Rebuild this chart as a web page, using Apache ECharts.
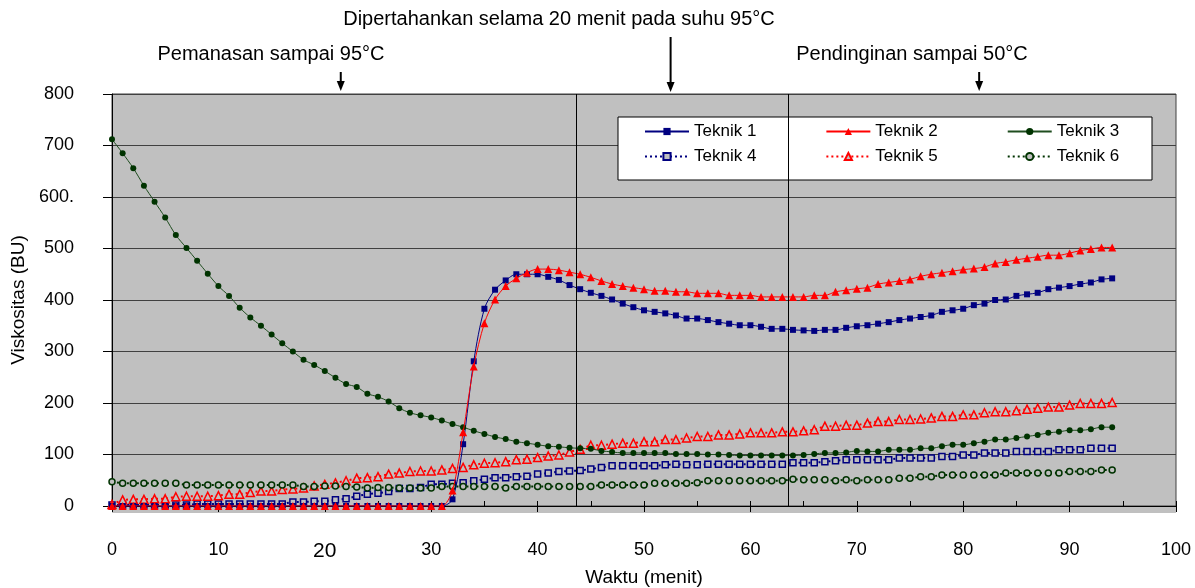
<!DOCTYPE html>
<html>
<head>
<meta charset="utf-8">
<script src="https://cdn.jsdelivr.net/npm/echarts@6/dist/echarts.min.js"></script>
<style>
html, body { margin: 0; padding: 0; background: #fff; }
#main { width: 1195px; height: 588px; }
</style>
</head>
<body>
<div id="main"></div>
<script>
// waktu (menit) tiap titik pengamatan
var waktu = [0,1,2,3,4,5,6,7,8,9,10,11,12,13,14,15,16,17,18,19,20,21,22,23,24,25,26,27,28,29,30,
    31,32,33,34,35,36,37,38,39,40,41,42,43,44,45,46,47,48,49,50,51,52,53,54,55,56,57,58,59,60,
    61,62,63,64,65,66,67,68,69,70,71,72,73,74,75,76,77,78,79,80,81,82,83,84,85,86,87,88,89,90,
    91,92,93,94];

// viskositas (BU) per teknik
var teknik1 = [0,0,0,0,0,0,0,0,0,0,0,0,0,0,0,0,0,0,0,0,0,0,0,0,0,0,0,0,0,0,0,0,
    13,120,281,383,420,438,450,450,450,445,439,429,421,414,408,401,393,386,380,377,
    374,370,364,364,361,357,354,351,351,348,344,344,342,341,340,342,342,346,349,351,
    354,357,361,364,367,370,377,380,383,390,393,400,401,408,411,414,421,424,427,431,
    434,440,442];
var teknik2 = [0,0,0,0,0,0,0,0,0,0,0,0,0,0,0,0,0,0,0,0,0,0,0,0,0,0,0,0,0,0,0,0,
    30,143,271,355,401,427,442,453,460,460,458,454,450,444,437,431,427,424,421,418,
    418,416,416,413,413,413,409,409,409,406,406,406,406,406,409,409,416,419,422,424,
    431,434,437,440,446,450,453,456,459,461,464,471,474,478,481,484,487,487,491,496,
    499,502,502];
var teknik3 = [712,685,656,622,591,560,526,501,476,451,427,
    408,385,366,350,333,316,300,284,274,262,
    249,237,231,218,212,203,190,181,176,172,
    166,159,153,146,140,134,130,125,122,119,
    116,115,113,112,111,107,105,103,103,103,
    103,103,101,101,101,100,100,99,98,98,
    98,98,98,98,99,101,103,103,104,107,
    106,106,109,109,109,112,112,116,119,119,
    122,125,129,129,132,135,138,142,144,147,
    147,149,153,153];
var teknik4 = [2,2,2,2,2,2,2,2,4,4,4,4,4,4,4,4,4,8,8,9,9,
    12,14,19,23,25,28,34,34,36,42,
    42,44,45,49,52,55,55,57,58,62,
    64,67,68,69,72,75,78,78,78,78,
    78,80,81,80,80,81,81,81,81,81,
    81,81,81,84,84,84,86,88,90,90,
    90,90,90,93,93,93,93,96,96,99,
    99,103,103,103,106,106,106,106,109,109,
    109,112,112,112];
var teknik5 = [3,12,13,13,14,14,18,19,19,19,20,
    23,23,26,29,29,32,33,35,39,42,
    45,49,54,55,57,62,64,67,68,68,
    70,73,75,80,83,84,86,90,91,94,
    97,99,105,110,118,118,120,122,122,125,
    125,129,129,132,135,135,138,138,140,142,
    142,142,144,144,146,148,155,155,157,157,
    161,164,164,168,168,169,171,174,174,177,
    177,181,183,183,185,188,190,192,192,196,
    199,199,199,201];
var teknik6 = [47,44,44,44,44,44,44,41,41,41,41,
    41,41,41,41,41,41,41,38,38,39,
    39,38,37,35,36,36,35,35,35,35,
    38,38,38,38,38,38,35,38,38,38,
    38,38,38,38,38,41,41,41,41,41,
    44,44,44,44,45,49,49,49,49,49,
    49,49,49,52,51,51,51,49,51,49,
    51,51,51,54,54,57,57,60,60,60,
    60,60,60,64,64,64,64,64,64,67,
    67,67,70,70];

var namaSeri = ['Teknik 1', 'Teknik 2', 'Teknik 3', 'Teknik 4', 'Teknik 5', 'Teknik 6'];
var batasFase = [43.6, 63.6];          // garis pemisah tahap
var posisiPanah = [21.5, 52.5, 81.5];  // letak panah keterangan (menit)
var keterangan = ['Pemanasan sampai 95°C', 'Dipertahankan selama 20 menit pada suhu 95°C', 'Pendinginan sampai 50°C'];

var FONT = "'Liberation Sans Narrow', 'Liberation Sans', Arial, sans-serif";
var ABU = '#C0C0C0';

var buatSeri = function (nama, nilai, gaya) {
    var data = [];
    waktu.forEach(function (t, i) {
        data.push([t, nilai[i]]);
    });
    return {
        name: nama,
        type: 'line',
        data: data,
        smooth: gaya.smooth,
        symbol: gaya.symbol,
        symbolSize: gaya.size,
        lineStyle: { color: gaya.warna, width: gaya.lebar, type: gaya.tipe },
        itemStyle: gaya.item,
        z: gaya.z
    };
};

var seri = [
    buatSeri(namaSeri[3], teknik4, { smooth: false, symbol: 'rect', size: 6, warna: '#000080', lebar: 2, tipe: [2, 3],
        item: { color: ABU, borderColor: '#000080', borderWidth: 1.5 }, z: 2 }),
    buatSeri(namaSeri[4], teknik5, { smooth: false, symbol: 'triangle', size: 8, warna: '#FF0000', lebar: 2, tipe: [2, 3],
        item: { color: ABU, borderColor: '#FF0000', borderWidth: 1.5 }, z: 2 }),
    buatSeri(namaSeri[5], teknik6, { smooth: false, symbol: 'circle', size: 6, warna: '#003300', lebar: 2, tipe: [2, 3],
        item: { color: ABU, borderColor: '#003300', borderWidth: 1.5 }, z: 2 }),
    buatSeri(namaSeri[2], teknik3, { smooth: 0.3, symbol: 'circle', size: 6, warna: '#1f4d1f', lebar: 1,
        item: { color: '#003300' }, z: 3 }),
    buatSeri(namaSeri[0], teknik1, { smooth: 0.3, symbol: 'rect', size: 6, warna: '#000080', lebar: 1,
        item: { color: '#000080' }, z: 3 }),
    buatSeri(namaSeri[1], teknik2, { smooth: 0.3, symbol: 'triangle', size: 8, warna: '#FF0000', lebar: 1,
        item: { color: '#FF0000' }, z: 4 })
];

// garis vertikal pemisah tahap
seri[0].markLine = {
    silent: true,
    symbol: ['none', 'none'],
    label: { show: false },
    lineStyle: { color: '#000', width: 1, type: 'solid' },
    data: batasFase.map(function (v) { return { xAxis: v }; })
};

var teksLegend = { fontFamily: FONT, fontSize: 17, color: '#000' };

var myChart = echarts.init(document.getElementById('main'));
var option = {
    animation: false,
    backgroundColor: '#fff',
    grid: {
        left: 112, right: 19, top: 94, bottom: 82,
        outerBoundsMode: 'none', containLabel: false,
        show: true, backgroundColor: ABU, borderColor: '#404040', borderWidth: 1
    },
    legend: [
        { data: namaSeri.slice(0, 3), left: 644, top: 123, padding: 0, itemGap: 69, itemWidth: 44, itemHeight: 9,
          selectedMode: false, textStyle: teksLegend },
        { data: namaSeri.slice(3, 6), left: 644, top: 148, padding: 0, itemGap: 69, itemWidth: 44, itemHeight: 9,
          selectedMode: false, textStyle: teksLegend }
    ],
    xAxis: [{
        type: 'value', min: 0, max: 100, interval: 10,
        name: 'Waktu (menit)', nameLocation: 'middle', nameGap: 62,
        nameTextStyle: { fontFamily: FONT, fontSize: 19, color: '#000' },
        axisLine: { lineStyle: { color: '#000', width: 1 } },
        axisTick: { length: 6, lineStyle: { color: '#000' } },
        splitLine: { show: false },
        axisLabel: {
            margin: 35, fontFamily: FONT, fontSize: 18, color: '#000',
            formatter: function (v) { return v === 20 ? '{besar|20}' : String(v); },
            rich: { besar: { fontFamily: FONT, fontSize: 21, color: '#000' } }
        }
    }, {
        type: 'value', min: 0, max: 100, interval: 5, position: 'bottom',
        axisLine: { show: false },
        axisTick: { inside: true, length: 5, lineStyle: { color: '#000' } },
        axisLabel: { show: false },
        splitLine: { show: false }
    }],
    yAxis: {
        type: 'value', min: 0, max: 800, interval: 100,
        name: 'Viskositas (BU)', nameLocation: 'middle', nameGap: 80,
        nameTextStyle: { fontFamily: FONT, fontSize: 19, color: '#000' },
        axisLine: { show: true, lineStyle: { color: '#000', width: 1 } },
        axisTick: { show: true, length: 9, lineStyle: { color: '#000' } },
        splitLine: { lineStyle: { color: '#404040', width: 1 } },
        axisLabel: {
            margin: 38, fontFamily: FONT, fontSize: 18, color: '#000',
            formatter: function (v) { return v === 600 ? '600.' : String(v); }
        }
    },
    series: seri
};
myChart.setOption(option);

// keterangan tahap di atas grafik, posisi panah dari sumbu x
var grafik = [];
var puncak = myChart.convertToPixel({ gridIndex: 0 }, [0, 800]);
var dasar = myChart.convertToPixel({ gridIndex: 0 }, [100, 0]);
grafik.push({ type: 'rect', z: -10, silent: true,
    shape: { x: puncak[0], y: dasar[1], width: dasar[0] - puncak[0], height: 7 },
    style: { fill: ABU } });
grafik.push({ type: 'rect', z: 1, silent: true,
    shape: { x: 618, y: 117, width: 534, height: 63 },
    style: { fill: '#fff', stroke: '#000', lineWidth: 1 } });

var panah = function (x, yAwal, yAkhir) {
    grafik.push({ type: 'line', silent: true,
        shape: { x1: x, y1: yAwal, x2: x, y2: yAkhir - 8 },
        style: { stroke: '#000', lineWidth: 2 } });
    grafik.push({ type: 'polygon', silent: true,
        shape: { points: [[x - 4, yAkhir - 10], [x + 4, yAkhir - 10], [x, yAkhir]] },
        style: { fill: '#000' } });
};
var px = posisiPanah.map(function (t) {
    return myChart.convertToPixel({ gridIndex: 0 }, [t, 0])[0];
});
panah(px[0], 72, 91);
panah(px[1], 37, 92);
panah(px[2], 72, 91);

var teks = function (isi, x, y) {
    grafik.push({ type: 'text', silent: true, x: x, y: y,
        style: { text: isi, font: '20px ' + FONT, fill: '#000', align: 'center', verticalAlign: 'middle' } });
};
teks(keterangan[0], 271, 54);
teks(keterangan[1], 559, 19);
teks(keterangan[2], 912, 54);

myChart.setOption({ graphic: grafik });
</script>
</body>
</html>
